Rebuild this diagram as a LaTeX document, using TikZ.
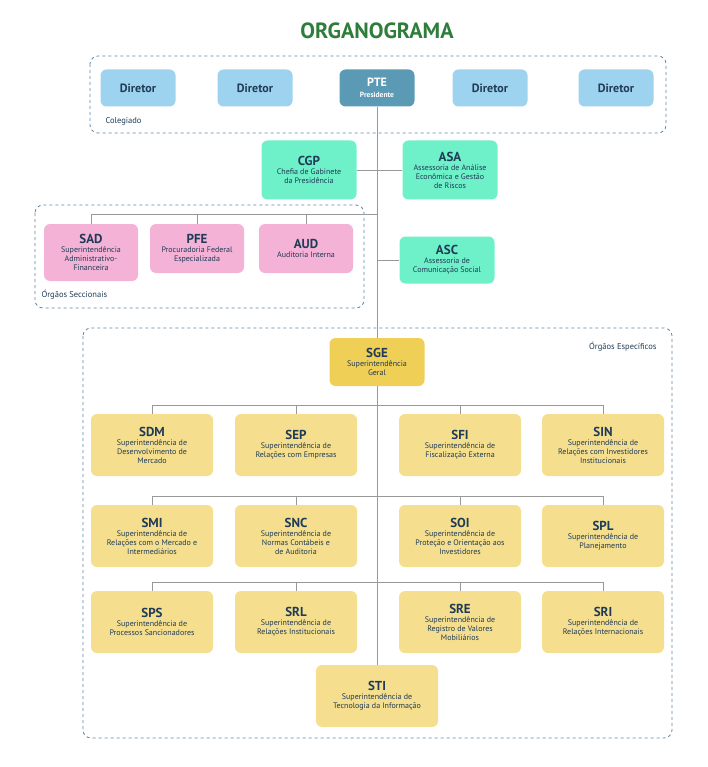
\documentclass[tikz,border=0pt]{standalone}
\usepackage{fontspec}
\setmainfont{PT Sans}
\usetikzlibrary{positioning}
\definecolor{navy}{HTML}{1F3B57}
\definecolor{dirblue}{HTML}{9DD3EF}
\definecolor{pteblue}{HTML}{5B9AB5}
\definecolor{mint}{HTML}{6EF0C8}
\definecolor{rosa}{HTML}{F4B2D6}
\definecolor{ouro}{HTML}{F5DF8E}
\definecolor{sgegold}{HTML}{F0CF57}
\definecolor{titlegreen}{HTML}{2E7D3A}
\definecolor{dashblue}{HTML}{5D86A8}
\tikzset{
  box/.style={rounded corners=6pt, align=center, text=navy, inner sep=1pt,
    font=\fontsize{8}{9}\selectfont},
  dir/.style={box, fill=dirblue, minimum width=75pt, minimum height=37pt,
    font=\fontsize{12}{13}\selectfont\bfseries},
  verde/.style={box, fill=mint, minimum width=95pt, minimum height=59pt},
  sec/.style={box, fill=rosa, minimum width=94pt},
  esp/.style={box, fill=ouro, minimum width=122pt, minimum height=62pt},
  grupo/.style={draw=dashblue, dashed, rounded corners=8pt, thick},
  liga/.style={draw=gray!80, line width=0.7pt},
}
\newcommand{\sigla}[2]{{\fontsize{13}{14}\selectfont\bfseries #1}\\#2}
\begin{document}
\begin{tikzpicture}[x=1pt,y=-1pt]
\useasboundingbox (0,0) rectangle (708,767);

\node[font=\fontsize{22}{24}\selectfont\bfseries, text=titlegreen] (titulo) at (377,31) {ORGANOGRAMA};

% colegiado
\draw[grupo] (90,56) rectangle (666,133);
\node[anchor=west, font=\fontsize{8.5}{9}\selectfont, text=navy] (colegiado) at (102,121) {Colegiado};
\node[dir] (d1) at (138,88) {Diretor};
\node[dir] (d2) at (255,88) {Diretor};
\node[dir, fill=pteblue, text=white, align=center] (pte) at (377,88) {PTE\\[-2pt]{\fontsize{7.5}{8}\selectfont Presidente}};
\node[dir] (d3) at (490,88) {Diretor};
\node[dir] (d4) at (616,88) {Diretor};

% assessorias
\node[verde] (cgp) at (309,170) {\sigla{CGP}{Chefia de Gabinete\\da Presidência}};
\node[verde] (asa) at (450,170) {\sigla{ASA}{Assessoria de Análise\\Econômica e Gestão\\de Riscos}};
\node[verde, minimum height=47pt] (asc) at (447,260) {\sigla{ASC}{Assessoria de\\Comunicação Social}};

% orgaos seccionais
\draw[grupo] (35,205) rectangle (364,308);
\node[anchor=west, font=\fontsize{8.5}{9}\selectfont, text=navy] (seccionais) at (38,295) {Órgãos Seccionais};
\node[sec, minimum height=57pt] (sad) at (91,252.5) {\sigla{SAD}{Superintendência\\Administrativo-\\Financeira}};
\node[sec, minimum height=49pt] (pfe) at (197,248.5) {\sigla{PFE}{Procuradoria Federal\\Especializada}};
\node[sec, minimum height=49pt] (aud) at (306,248.5) {\sigla{AUD}{Auditoria Interna}};

% orgaos especificos
\draw[grupo] (83,328) rectangle (672,738);
\node[anchor=east, font=\fontsize{8.5}{9}\selectfont, text=navy] (especificos) at (660,347) {Órgãos Específicos};
\node[box, fill=sgegold, minimum width=95pt, minimum height=48pt] (sge) at (377,362) {\sigla{SGE}{Superintendência\\Geral}};

\node[esp] (sdm) at (152,445) {\sigla{SDM}{Superintendência de\\Desenvolvimento de\\Mercado}};
\node[esp] (sep) at (296,445) {\sigla{SEP}{Superintendência de\\Relações com Empresas}};
\node[esp] (sfi) at (460,445) {\sigla{SFI}{Superintendência de\\Fiscalização Externa}};
\node[esp] (sin) at (603,445) {\sigla{SIN}{Superintendência de\\Relações com Investidores\\Institucionais}};

\node[esp] (smi) at (152,536) {\sigla{SMI}{Superintendência de\\Relações com o Mercado e\\Intermediários}};
\node[esp] (snc) at (296,536) {\sigla{SNC}{Superintendência de\\Normas Contábeis e\\de Auditoria}};
\node[esp] (soi) at (460,536) {\sigla{SOI}{Superintendência de\\Proteção e Orientação aos\\Investidores}};
\node[esp] (spl) at (603,536) {\sigla{SPL}{Superintendência de\\Planejamento}};

\node[esp] (sps) at (152,622) {\sigla{SPS}{Superintendência de\\Processos Sancionadores}};
\node[esp] (srl) at (296,622) {\sigla{SRL}{Superintendência de\\Relações Institucionais}};
\node[esp] (sre) at (460,622) {\sigla{SRE}{Superintendência de\\Registro de Valores\\Mobiliários}};
\node[esp] (sri) at (603,622) {\sigla{SRI}{Superintendência de\\Relações Internacionais}};

\node[esp] (sti) at (377,696) {\sigla{STI}{Superintendência de\\Tecnologia da Informação}};

% ligacoes
\coordinate (jsec) at (377,214);
\coordinate (jasc) at (377,260);
\coordinate (j1) at (377,405);
\coordinate (j2) at (377,496);
\coordinate (j3) at (377,582);
\begin{scope}[on background layer/.style={}]
\draw[liga] (pte) -- (sge);
\draw[liga] (cgp) -- (asa);
\draw[liga] (jasc) -- (asc);
\draw[liga] (jsec) -| (sad);
\draw[liga] (jsec) -| (pfe);
\draw[liga] (jsec) -| (aud);
\draw[liga] (sge) -- (sti);
\foreach \j/\a/\b/\c/\d in {j1/sdm/sep/sfi/sin, j2/smi/snc/soi/spl, j3/sps/srl/sre/sri}{
  \draw[liga] (\j) -| (\a);
  \draw[liga] (\j) -| (\b);
  \draw[liga] (\j) -| (\c);
  \draw[liga] (\j) -| (\d);
}
\end{scope}
\end{tikzpicture}
\end{document}
